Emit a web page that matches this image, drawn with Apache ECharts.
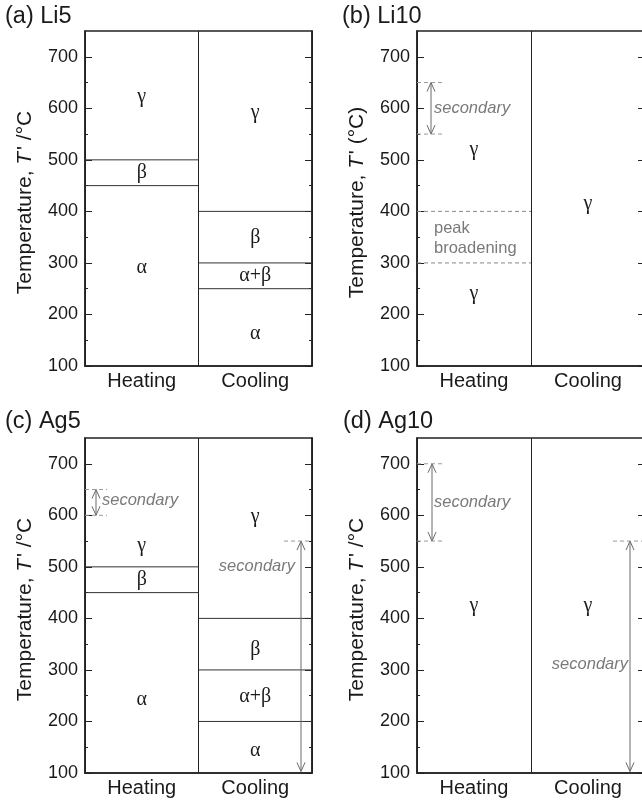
<!DOCTYPE html>
<html><head><meta charset="utf-8">
<script src="https://cdn.jsdelivr.net/npm/echarts@6/dist/echarts.min.js"></script>
<style>html,body{margin:0;padding:0;background:#fff}#c{width:642px;height:803px}</style>
</head><body><div id="c"></div>
<script>
// ---------- data ----------
const categories = ['Heating', 'Cooling'];
const yMajorTicks = [100, 200, 300, 400, 500, 600, 700];
const yMinorTicks = [150, 250, 350, 450, 550, 650];
const yMin = 100, yMax = 750;
const panelTitles = ['(a) Li5', '(b) Li10', '(c) Ag5', '(d) Ag10'];
const panelYNames = ["Temperature, {i|T}\u200a' /°C", "Temperature, {i|T}\u200a' (°C)", "Temperature, {i|T}\u200a' /°C", "Temperature, {i|T}\u200a' /°C"];

// solid phase boundaries [categoryIndex, T]
const li5Bounds = [[0, 500], [0, 450], [1, 400], [1, 300], [1, 250]];
const li10Bounds = [];
const ag5Bounds = [[0, 500], [0, 450], [1, 400], [1, 300], [1, 200]];
const ag10Bounds = [];
// dashed boundaries [categoryIndex, T]
const li5Dashed = [];
const li10Dashed = [[0, 400], [0, 300]];
const ag5Dashed = [];
const ag10Dashed = [];
// phase labels [categoryIndex, T, text]
const li5Phases = [[0, 622, 'γ'], [0, 475, 'β'], [0, 290, 'α'], [1, 592, 'γ'], [1, 348, 'β'], [1, 275, 'α+β'], [1, 163, 'α']];
const li10Phases = [[0, 520, 'γ'], [0, 240, 'γ'], [1, 415, 'γ']];
const ag5Phases = [[0, 540, 'γ'], [0, 475, 'β'], [0, 242, 'α'], [1, 598, 'γ'], [1, 340, 'β'], [1, 248, 'α+β'], [1, 143, 'α']];
const ag10Phases = [[0, 425, 'γ'], [1, 425, 'γ']];
// secondary-peak ranges [categoryIndex, lowT, highT]
const li5Secondary = [];
const li10Secondary = [[0, 550, 650]];
const ag5Secondary = [[0, 600, 650], [1, 103, 550]];
const ag10Secondary = [[0, 550, 700], [1, 103, 550]];
// annotations [categoryIndex, T, text]
const li5Notes = [];
const li10Notes = [[0, 600, 'secondary'], [0, 348, 'peak\nbroadening']];
const ag5Notes = [[0, 628, 'secondary'], [1, 500, 'secondary']];
const ag10Notes = [[0, 625, 'secondary'], [1, 310, 'secondary']];

// ---------- style / layout ----------
const SANS = 'Liberation Sans, Arial, sans-serif';
const SERIF = 'Liberation Serif, Times New Roman, serif';
const INK = '#1a1a1a';
const GREY = '#7a7a7a';
const grids = [
  { left: 85, top: 31, width: 227, height: 335 },
  { left: 417, top: 31, width: 228, height: 335 },
  { left: 85, top: 438, width: 227, height: 335 },
  { left: 417, top: 438, width: 228, height: 335 }
];
const titlePos = [{ left: 5, top: 5 }, { left: 342, top: 5 }, { left: 5, top: 410 }, { left: 343, top: 410 }];
const arrowOffsets = [12, 14, 11, 15];
const noteOffset = 17;

const panels = [
  { bounds: li5Bounds, dashed: li5Dashed, phases: li5Phases, sec: li5Secondary, notes: li5Notes },
  { bounds: li10Bounds, dashed: li10Dashed, phases: li10Phases, sec: li10Secondary, notes: li10Notes },
  { bounds: ag5Bounds, dashed: ag5Dashed, phases: ag5Phases, sec: ag5Secondary, notes: ag5Notes },
  { bounds: ag10Bounds, dashed: ag10Dashed, phases: ag10Phases, sec: ag10Secondary, notes: ag10Notes }
];

function band(api, cat, val) {
  const c = api.coord([cat, val]);
  const w = api.size([1, 0])[0];
  return { cx: c[0], y: c[1], l: c[0] - w / 2, r: c[0] + w / 2 };
}

const option = {
  animation: false,
  backgroundColor: '#fff',
  title: panelTitles.map((t, i) => ({
    text: t, left: titlePos[i].left, top: titlePos[i].top, padding: 0,
    textStyle: { fontFamily: SANS, fontSize: 23.5, fontWeight: 'normal', color: INK }
  })),
  grid: grids.map(g => Object.assign({ show: true, borderColor: '#222', borderWidth: 1.5, backgroundColor: 'transparent', containLabel: false, outerBoundsMode: 'none' }, g)),
  xAxis: grids.map((g, i) => ({
    type: 'category', gridIndex: i, data: categories, boundaryGap: true,
    axisLine: { show: true, lineStyle: { color: '#222', width: 1.5 } },
    axisTick: { show: false },
    axisLabel: { fontFamily: SANS, fontSize: 20, color: INK, margin: 5, interval: 0 },
    splitLine: { show: true, interval: 0, lineStyle: { color: '#222', width: 1 } }
  })),
  yAxis: [],
  series: []
};

grids.forEach((g, i) => {
  const base = { type: 'value', gridIndex: i, min: yMin, max: yMax, splitLine: { show: false } };
  option.yAxis.push(Object.assign({}, base, {
    position: 'left',
    name: panelYNames[i], nameLocation: 'middle', nameGap: 49, nameMoveOverlap: false,
    nameTextStyle: { fontFamily: SANS, fontSize: 21, color: INK, padding: [0, 8, 0, 0],
      rich: { i: { fontFamily: SANS, fontSize: 21, fontStyle: 'italic', color: INK } } },
    axisLine: { show: true, lineStyle: { color: '#222', width: 1.5 } },
    axisTick: { show: true, inside: true, length: 7, customValues: yMajorTicks, lineStyle: { color: '#222', width: 1 } },
    axisLabel: { customValues: yMajorTicks, fontFamily: SANS, fontSize: 18, color: INK, margin: 7 }
  }));
  option.yAxis.push(Object.assign({}, base, {
    position: 'left',
    axisLine: { show: false },
    axisTick: { show: true, inside: true, length: 3, customValues: yMinorTicks, lineStyle: { color: '#222', width: 1 } },
    axisLabel: { show: false }
  }));
  option.yAxis.push(Object.assign({}, base, {
    position: 'right',
    axisLine: { show: true, lineStyle: { color: '#222', width: 1.5 } },
    axisTick: { show: true, inside: true, length: 7, customValues: yMajorTicks, lineStyle: { color: '#222', width: 1 } },
    axisLabel: { show: false }
  }));
  option.yAxis.push(Object.assign({}, base, {
    position: 'right',
    axisLine: { show: false },
    axisTick: { show: true, inside: true, length: 3, customValues: yMinorTicks, lineStyle: { color: '#222', width: 1 } },
    axisLabel: { show: false }
  }));

  const P = panels[i];
  const common = { type: 'custom', xAxisIndex: i, yAxisIndex: i * 4, silent: true, z: 5 };

  // solid boundaries
  option.series.push(Object.assign({}, common, {
    data: P.bounds.map(d => [d[0], d[1]]),
    renderItem: (params, api) => {
      const b = band(api, api.value(0), api.value(1));
      return { type: 'line', shape: { x1: b.l, y1: b.y, x2: b.r, y2: b.y }, style: { stroke: '#333', lineWidth: 1 } };
    }
  }));
  // dashed boundaries
  option.series.push(Object.assign({}, common, {
    data: P.dashed.map(d => [d[0], d[1]]),
    renderItem: (params, api) => {
      const b = band(api, api.value(0), api.value(1));
      return { type: 'line', shape: { x1: b.l, y1: b.y, x2: b.r, y2: b.y }, style: { stroke: '#888', lineWidth: 1, lineDash: [4, 3] } };
    }
  }));
  // phase labels
  option.series.push(Object.assign({}, common, {
    data: P.phases.map(d => [d[0], d[1]]),
    renderItem: (params, api) => {
      const b = band(api, api.value(0), api.value(1));
      return { type: 'text', x: b.cx, y: b.y, style: { text: P.phases[params.dataIndex][2], fontFamily: SERIF, fontSize: 20, fill: INK, align: 'center', verticalAlign: 'middle' } };
    }
  }));
  // secondary arrows
  option.series.push(Object.assign({}, common, {
    data: P.sec.map(d => [d[0], d[1], d[2]]),
    renderItem: (params, api) => {
      const cat = api.value(0);
      const lo = band(api, cat, api.value(1));
      const hi = band(api, cat, api.value(2));
      const off = arrowOffsets[i];
      const x = cat === 0 ? lo.l + off : lo.r - off;
      const st = { stroke: '#6a6a6a', lineWidth: 1, fill: null };
      const ch = [
        { type: 'line', shape: { x1: x, y1: lo.y, x2: x, y2: hi.y }, style: st },
        { type: 'polyline', shape: { points: [[x - 4, hi.y + 9], [x, hi.y], [x + 4, hi.y + 9]] }, style: st },
        { type: 'polyline', shape: { points: [[x - 4, lo.y - 9], [x, lo.y], [x + 4, lo.y - 9]] }, style: st }
      ];
      const ds = { stroke: '#999', lineWidth: 1, lineDash: [4, 3] };
      [api.value(1), api.value(2)].forEach((v, k) => {
        if (v <= yMin + 5) return;
        const yy = k === 0 ? lo.y : hi.y;
        if (cat === 0) ch.push({ type: 'line', shape: { x1: lo.l, y1: yy, x2: x + 11, y2: yy }, style: ds });
        else ch.push({ type: 'line', shape: { x1: x - 17, y1: yy, x2: lo.r, y2: yy }, style: ds });
      });
      return { type: 'group', children: ch };
    }
  }));
  // annotation texts
  option.series.push(Object.assign({}, common, {
    data: P.notes.map(d => [d[0], d[1]]),
    renderItem: (params, api) => {
      const cat = api.value(0);
      const b = band(api, cat, api.value(1));
      const txt = P.notes[params.dataIndex][2];
      const italic = txt === 'secondary';
      return { type: 'text', x: cat === 0 ? b.l + noteOffset : b.r - noteOffset, y: b.y,
        style: { text: txt, fontFamily: SANS, fontSize: 16.5, fontStyle: italic ? 'italic' : 'normal', fill: GREY,
          align: cat === 0 ? 'left' : 'right', verticalAlign: 'middle', lineHeight: 20 } };
    }
  }));
});

const chart = echarts.init(document.getElementById('c'), null, { renderer: 'canvas' });
chart.setOption(option);
</script>
</body></html>
